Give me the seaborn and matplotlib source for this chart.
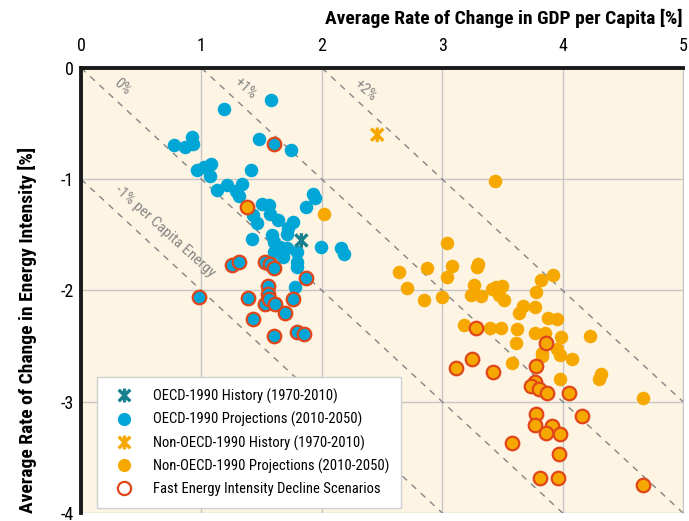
import pandas as pd
import seaborn as sns
import matplotlib.pyplot as plt
from matplotlib.lines import Line2D
from matplotlib.path import Path

plt.rcParams['font.family'] = ['Roboto Condensed', 'Liberation Sans Narrow', 'Lato', 'DejaVu Sans']
plt.rcParams['axes.unicode_minus'] = False

# OECD-1990 projections (2010-2050), normal
oecd_gdp = [1.58, 1.19, 0.77, 0.86, 0.92, 0.93, 1.48, 1.74, 0.96, 1.02, 1.08, 1.07,
            1.41, 1.13, 1.21, 1.34, 1.29, 1.31, 1.93, 1.94, 1.87, 1.50, 1.56, 1.57,
            1.43, 1.46, 1.64, 1.76, 1.72, 1.59, 1.42, 1.71, 1.60, 1.65, 1.71, 1.79,
            1.60, 1.68, 1.79, 1.79, 1.99, 2.16, 2.18, 1.78]
oecd_ei = [-0.29, -0.37, -0.69, -0.71, -0.62, -0.68, -0.64, -0.74, -0.92, -0.89, -0.86, -0.97,
           -0.92, -1.10, -1.05, -1.04, -1.11, -1.15, -1.13, -1.17, -1.25, -1.22, -1.23, -1.31,
           -1.32, -1.39, -1.37, -1.38, -1.44, -1.50, -1.54, -1.49, -1.56, -1.61, -1.62, -1.65,
           -1.65, -1.70, -1.74, -1.79, -1.61, -1.62, -1.67, -1.97]

# OECD-1990 projections, fast energy intensity decline
oecd_fast_gdp = [1.60, 1.25, 1.31, 1.53, 1.57, 1.60, 1.87, 1.55, 1.55, 0.98,
                 1.39, 1.53, 1.56, 1.61, 1.76, 1.69, 1.43, 1.79, 1.85, 1.60]
oecd_fast_ei = [-0.68, -1.77, -1.74, -1.74, -1.76, -1.80, -1.89, -1.96, -2.03, -2.06,
                -2.07, -2.12, -2.08, -2.12, -2.08, -2.20, -2.26, -2.37, -2.39, -2.41]

# Non-OECD-1990 projections (2010-2050), normal
non_gdp = [2.02, 3.44, 3.04, 2.64, 2.71, 2.87, 2.85, 3.00, 3.08, 3.04, 3.29, 3.30,
           3.26, 3.24, 3.32, 3.41, 3.45, 3.50, 3.47, 3.51, 3.78, 3.82, 3.92, 3.67,
           3.64, 3.77, 3.88, 3.95, 3.18, 3.40, 3.49, 3.62, 3.61, 3.77, 3.85, 3.99,
           4.23, 3.83, 3.83, 3.95, 3.98, 4.08, 3.58, 3.98, 4.32, 4.30, 4.67]
non_ei = [-1.31, -1.02, -1.57, -1.83, -1.98, -1.80, -2.09, -2.06, -1.78, -1.88, -1.79, -1.76,
          -1.95, -2.04, -2.05, -1.99, -1.97, -1.96, -2.04, -2.09, -2.01, -1.91, -1.86, -2.14,
          -2.20, -2.15, -2.25, -2.26, -2.31, -2.34, -2.34, -2.35, -2.47, -2.38, -2.38, -2.42,
          -2.41, -2.56, -2.59, -2.53, -2.58, -2.62, -2.65, -2.80, -2.75, -2.80, -2.97]

# Non-OECD-1990 projections, fast energy intensity decline
non_fast_gdp = [1.38, 3.28, 3.86, 3.11, 3.25, 3.42, 3.78, 3.77, 3.74, 3.80, 3.87, 4.05,
                4.16, 3.78, 3.77, 3.91, 3.86, 3.98, 3.58, 3.97, 3.81, 3.96, 4.67]
non_fast_ei = [-1.25, -2.34, -2.47, -2.70, -2.62, -2.73, -2.68, -2.82, -2.86, -2.89, -2.92, -2.92,
               -3.13, -3.11, -3.21, -3.22, -3.28, -3.29, -3.37, -3.47, -3.69, -3.69, -3.75]

# history (1970-2010)
oecd_hist = (1.83, -1.55)
non_hist = (2.46, -0.60)

# per capita energy growth guide lines: EI = rate - GDP
guide_rates = [-1, 0, 1, 2]
guide_labels = ['-1% per Capita Energy', '0%', '+1%', '+2%']
guide_label_pos = [(0.70, -1.47), (0.34, -0.17), (1.36, -0.18), (2.36, -0.20)]

blue = '#00a6d6'
orange = '#f7a800'
red = '#e0461a'
teal = '#17808f'
grey = '#858585'

# X with a vertical bar through it
star = Path([(-1, -1), (1, 1), (-1, 1), (1, -1), (0, -1.2), (0, 1.2)],
            [Path.MOVETO, Path.LINETO, Path.MOVETO, Path.LINETO, Path.MOVETO, Path.LINETO])

fig = plt.figure(figsize=(6.89, 5.21), dpi=100)
ax = fig.add_axes([0.1176, 0.0154, 0.8738, 0.8541])
ax.set_facecolor('#fdf4e3')

for r in guide_rates:
    xs = [max(0, r), 5]
    ax.plot(xs, [r - v for v in xs], color=grey, lw=1, ls=(0, (4.5, 4.5)), zorder=1)
for lab, (lx, ly) in zip(guide_labels, guide_label_pos):
    ax.text(lx, ly, lab, color=grey, fontsize=11, rotation=-42,
            ha='center', va='center', rotation_mode='anchor', zorder=1)

df_oecd = pd.DataFrame({'gdp': oecd_gdp, 'ei': oecd_ei})
df_oecd_fast = pd.DataFrame({'gdp': oecd_fast_gdp, 'ei': oecd_fast_ei})
df_non = pd.DataFrame({'gdp': non_gdp, 'ei': non_ei})
df_non_fast = pd.DataFrame({'gdp': non_fast_gdp, 'ei': non_fast_ei})

sns.scatterplot(data=df_oecd, x='gdp', y='ei', color=blue, s=95, linewidth=0, ax=ax, zorder=3)
sns.scatterplot(data=df_oecd_fast, x='gdp', y='ei', color=blue, s=95, edgecolor=red,
                linewidth=1.6, ax=ax, zorder=3)
sns.scatterplot(data=df_non, x='gdp', y='ei', color=orange, s=95, linewidth=0, ax=ax, zorder=3)
sns.scatterplot(data=df_non_fast, x='gdp', y='ei', color=orange, s=95, edgecolor=red,
                linewidth=1.6, ax=ax, zorder=3)
ax.scatter([oecd_hist[0]], [oecd_hist[1]], marker=star, s=110, facecolor='none',
           edgecolor=teal, linewidth=2.4, zorder=4)
ax.scatter([non_hist[0]], [non_hist[1]], marker=star, s=110, facecolor='none',
           edgecolor=orange, linewidth=2.4, zorder=4)

ax.set_xlim(0, 5)
ax.set_ylim(-4, 0)
ax.set_xticks(range(0, 6))
ax.set_yticks(range(-4, 1))
ax.grid(True, color='#c6c6c6', lw=1)
ax.set_axisbelow(True)
ax.xaxis.tick_top()
ax.xaxis.set_label_position('top')
ax.tick_params(axis='x', length=0, pad=9, labelsize=13)
ax.tick_params(axis='y', length=0, pad=5, labelsize=13)
ax.set_xlabel('Average Rate of Change in GDP per Capita [%]', fontsize=14,
              fontweight='bold', loc='right', labelpad=10)
ax.set_ylabel('Average Rate of Change in Energy Intensity [%]', fontsize=14,
              fontweight='bold', loc='bottom', labelpad=17)

for side in ['top', 'left']:
    ax.spines[side].set_linewidth(2.8)
    ax.spines[side].set_color('#1a1a1a')
ax.spines['right'].set_color('#c6c6c6')
ax.spines['bottom'].set_visible(False)

handles = [
    Line2D([], [], ls='', marker=star, ms=10, mew=2.4, mfc='none', mec=teal),
    Line2D([], [], ls='', marker='o', ms=9.5, mew=0, color=blue),
    Line2D([], [], ls='', marker=star, ms=10, mew=2.4, mfc='none', mec=orange),
    Line2D([], [], ls='', marker='o', ms=9.5, mew=0, color=orange),
    Line2D([], [], ls='', marker='o', ms=9.5, mew=1.6, mfc='none', mec=red),
]
labels = ['OECD-1990 History (1970-2010)', 'OECD-1990 Projections (2010-2050)',
          'Non-OECD-1990 History (1970-2010)', 'Non-OECD-1990 Projections (2010-2050)',
          'Fast Energy Intensity Decline Scenarios']
leg = ax.legend(handles, labels, loc='lower left', bbox_to_anchor=(0.027, 0.012),
                fontsize=10.5, frameon=True, fancybox=False, framealpha=1,
                edgecolor='#d0d0d0', handletextpad=1.0, labelspacing=0.55,
                borderpad=0.8, borderaxespad=0)
leg.get_frame().set_linewidth(1)

fig.savefig('out.png', dpi=100)
